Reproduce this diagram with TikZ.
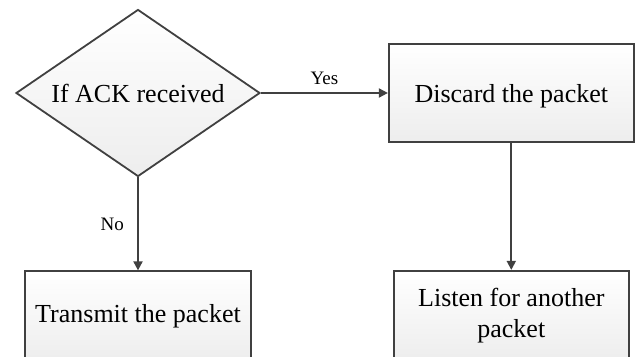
\documentclass[tikz,border=0pt]{standalone}
\usepackage{fontspec}
\setmainfont{Liberation Serif}
\usepackage{tikz}
\usetikzlibrary{shapes.geometric, arrows.meta, positioning}
\definecolor{edgegray}{HTML}{404040}
\tikzstyle{decision} = [diamond, aspect=1.46, minimum width=244pt, minimum height=167pt, inner sep=0pt, text centered, draw=edgegray, line width=1.8pt, top color=white, bottom color=gray!14, font=\fontsize{26}{30}\selectfont]
\tikzstyle{process} = [rectangle, minimum height=98pt, text centered, align=center, draw=edgegray, line width=1.8pt, top color=white, bottom color=gray!14, font=\fontsize{26}{31}\selectfont]
\tikzstyle{arrow} = [draw=edgegray, line width=1.8pt, -{Triangle[length=9pt,width=9pt]}]
\tikzstyle{lbl} = [font=\fontsize{19}{22}\selectfont]

\begin{document}
\begin{tikzpicture}[x=1pt, y=1pt]
    \useasboundingbox (0,0) rectangle (637,356);
    \clip (0,0) rectangle (637,356);
    % Decision
    \node[decision] (ack) at (138,263) {If ACK received};
    % Actions
    \node[process, minimum width=245pt, right=127pt of ack, text depth=-6pt] (discard) {Discard the packet};
    \node[process, minimum width=226pt, below=93pt of ack, anchor=north, minimum height=90pt] (transmit) {Transmit the packet};
    \node[process, minimum width=235pt, below=127pt of discard, minimum height=90pt] (listen) {Listen for another\\packet};

    % Connections
    \draw[arrow] (ack) -- node[lbl, above=4pt] {Yes} (discard);
    \draw[arrow] (ack) -- node[lbl, left=10pt, pos=0.5] {No} (transmit);
    \draw[arrow] (discard) -- (listen);

\end{tikzpicture}
\end{document}
